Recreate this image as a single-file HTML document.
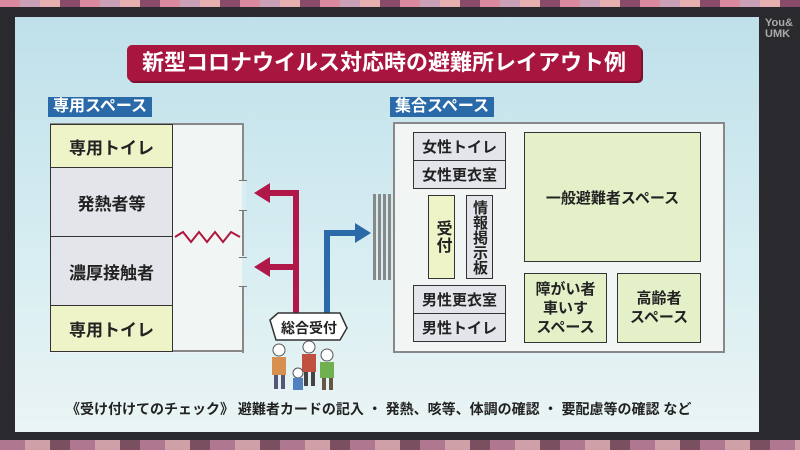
<!DOCTYPE html>
<html><head><meta charset="utf-8"><style>
*{margin:0;padding:0;box-sizing:border-box}
body{width:800px;height:450px;overflow:hidden;background:#2a2a2e;position:relative;font-family:"Liberation Sans","Noto Sans CJK JP",sans-serif;font-weight:bold;color:#222}
.a{position:absolute}
.strip{left:0;top:0;width:800px;height:7px;background:repeating-linear-gradient(90deg,#d98aa0 0 20px,#c9a0b8 20px 40px,#e6b0b0 40px 60px,#8a4a6a 60px 80px)}
.bot{left:0;top:440px;width:800px;height:10px;background:repeating-linear-gradient(90deg,#b07890 0 25px,#d0a0a8 25px 50px,#7a5060 50px 70px)}
.scr{left:15px;top:17px;width:744px;height:415px;background:linear-gradient(180deg,#bfe0ea 0%,#d8eef2 60%,#eaf4f4 100%)}
.title{left:127px;top:45px;width:514px;height:36px;background:#a8163f;border-radius:5px;color:#fff;font-size:22px;text-align:center;line-height:36px;box-shadow:2px 2px 0 #7a0f2e}
.lbl{height:20px;background:#2a6aa8;color:#fff;font-size:16px;line-height:20px;padding:0 5px}
.box{border:2px solid #888;background:#f1f5f3}
.cell{border:1px solid #333;text-align:center;font-size:17px;display:flex;align-items:center;justify-content:center}
.y{background:#eef3c8}.g{background:#e3e5ea}.gr{background:#e3f0c8}
.vt{writing-mode:vertical-rl;font-size:16px;letter-spacing:1px}
</style></head><body>
<div class="a strip"></div><div class="a bot"></div>
<div class="a scr"></div>
<div class="a" style="left:765px;top:18px;color:#aaa;font-size:11px;line-height:11px">You&amp;<br>UMK</div>
<div class="a title">新型コロナウイルス対応時の避難所レイアウト例</div>

<div class="a lbl" style="left:48px;top:97px">専用スペース</div>
<div class="a box" style="left:50px;top:123px;width:194px;height:230px;border-left:none;border-bottom:none;background:#f1f6f4"></div>
<div class="a" style="left:50px;top:350px;width:194px;height:2px;background:#888"></div>
<div class="a" style="left:242px;top:181px;width:4px;height:30px;background:#d8eef2"></div>
<div class="a" style="left:242px;top:256px;width:4px;height:30px;background:#d8eef2"></div>
<div class="a" style="left:239px;top:180px;width:8px;height:1px;background:#777"></div>
<div class="a" style="left:239px;top:210px;width:8px;height:1px;background:#777"></div>
<div class="a" style="left:239px;top:257px;width:8px;height:1px;background:#777"></div>
<div class="a" style="left:239px;top:286px;width:8px;height:1px;background:#777"></div>
<div class="a cell y" style="left:50px;top:124px;width:123px;height:44px">専用トイレ</div>
<div class="a cell g" style="left:50px;top:167px;width:123px;height:70px">発熱者等</div>
<div class="a cell g" style="left:50px;top:236px;width:123px;height:70px">濃厚接触者</div>
<div class="a cell y" style="left:50px;top:305px;width:123px;height:47px">専用トイレ</div>

<svg class="a" style="left:0;top:0" width="800" height="450">
<polyline points="175,237 183,232 191,242 199,232 207,242 215,232 223,242 231,232 240,237" fill="none" stroke="#b0183f" stroke-width="2"/>
<path d="M296,330 V193 H268" fill="none" stroke="#b0184a" stroke-width="6"/>
<polygon points="254,193 270,183 270,203" fill="#b0184a"/>
<path d="M296,267 H268" fill="none" stroke="#b0184a" stroke-width="6"/>
<polygon points="254,267 270,257 270,277" fill="#b0184a"/>
<path d="M327,318 V233 H356" fill="none" stroke="#2a6aa8" stroke-width="6"/>
<polygon points="371,233 355,223 355,243" fill="#2a6aa8"/>
<g fill="#888"><rect x="373" y="194" width="3" height="86"/><rect x="378" y="194" width="3" height="86"/><rect x="383" y="194" width="3" height="86"/><rect x="388" y="194" width="3" height="86"/></g>
<path d="M270,320 L278,313 H340 L347,328 L340,340 H276 Z" fill="#fff" stroke="#333" stroke-width="1.5"/>
<text x="281" y="333" font-size="14" font-weight="bold" fill="#222" font-family="Liberation Sans, Noto Sans CJK JP, sans-serif">総合受付</text>
<g>
<circle cx="279" cy="350" r="6" fill="#fff" stroke="#555"/><rect x="272" y="357" width="14" height="18" fill="#d89050"/><rect x="274" y="375" width="4" height="14" fill="#557"/><rect x="281" y="375" width="4" height="14" fill="#557"/>
<circle cx="309" cy="347" r="6" fill="#fff" stroke="#555"/><rect x="302" y="354" width="14" height="18" fill="#c05040"/><rect x="304" y="372" width="4" height="14" fill="#444"/><rect x="311" y="372" width="4" height="14" fill="#444"/>
<circle cx="298" cy="373" r="5" fill="#fff" stroke="#555"/><rect x="293" y="378" width="10" height="12" fill="#5080c0"/>
<circle cx="327" cy="355" r="6" fill="#fff" stroke="#555"/><rect x="320" y="362" width="14" height="16" fill="#70b050"/><rect x="322" y="378" width="4" height="12" fill="#654"/><rect x="329" y="378" width="4" height="12" fill="#654"/>
</g>
</svg>

<div class="a lbl" style="left:390px;top:97px">集合スペース</div>
<div class="a box" style="left:393px;top:122px;width:332px;height:231px"></div>
<div class="a cell g" style="left:413px;top:132px;width:93px;height:29px;font-size:15px">女性トイレ</div>
<div class="a cell g" style="left:413px;top:160px;width:93px;height:29px;font-size:15px">女性更衣室</div>
<div class="a cell y vt" style="left:428px;top:195px;width:27px;height:84px">受付</div>
<div class="a cell g vt" style="left:466px;top:195px;width:27px;height:84px;font-size:15px;letter-spacing:0">情報掲示板</div>
<div class="a cell g" style="left:413px;top:285px;width:93px;height:29px;font-size:15px">男性更衣室</div>
<div class="a cell g" style="left:413px;top:313px;width:93px;height:29px;font-size:15px">男性トイレ</div>
<div class="a cell gr" style="left:524px;top:132px;width:177px;height:130px;font-size:15px">一般避難者スペース</div>
<div class="a cell gr" style="left:524px;top:273px;width:83px;height:70px;font-size:15px;line-height:19px">障がい者<br>車いす<br>スペース</div>
<div class="a cell gr" style="left:617px;top:273px;width:84px;height:70px;font-size:15px;line-height:19px">高齢者<br>スペース</div>

<div class="a" style="left:66px;top:399px;width:650px;font-size:14px;white-space:nowrap">《受け付けてのチェック》 避難者カードの記入 ・ 発熱、咳等、体調の確認 ・ 要配慮等の確認 など</div>
</body></html>
